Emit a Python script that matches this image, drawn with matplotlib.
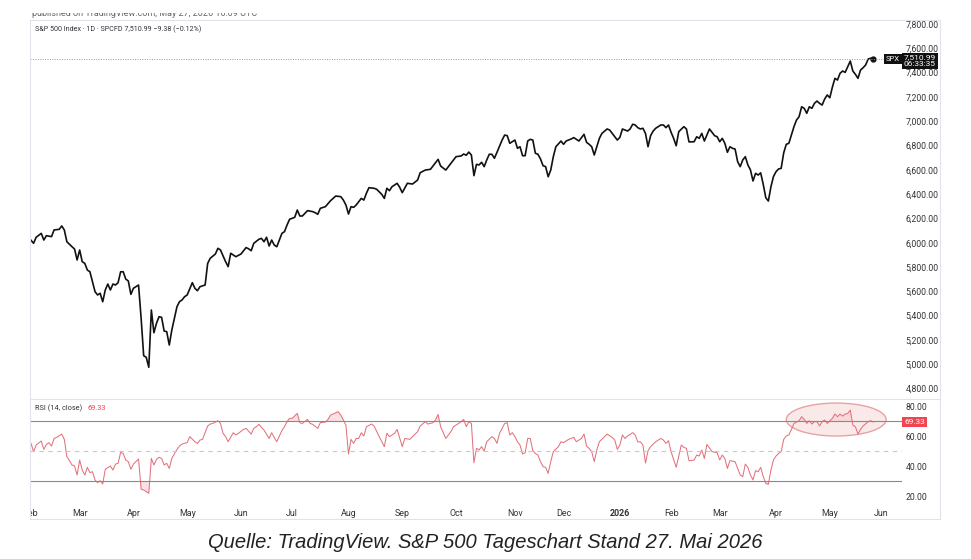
import numpy as np
import matplotlib.pyplot as plt
from matplotlib.patches import Ellipse, Rectangle
from matplotlib.lines import Line2D
from matplotlib.transforms import blended_transform_factory, offset_copy

# Handelstage ab 3. Feb 2025 (Index 0) bis 27. Mai 2026 (Index 329)
spx_bar = [-1, 1, 2, 4, 5, 6, 8, 9, 11, 12, 13, 14, 16, 17, 18, 19, 20, 21, 22, 23,
           24, 25, 26, 27, 28, 29, 30, 31, 32, 33, 34, 35, 36, 37, 38, 39, 40, 42, 43, 44,
           45, 46, 47, 48, 49, 50, 51, 52, 53, 54, 55, 56, 57, 58, 59, 60, 61, 63, 64, 65,
           66, 68, 69, 70, 72, 73, 74, 76, 77, 78, 80, 82, 84, 85, 86, 87, 89, 90, 91, 92,
           93, 94, 95, 96, 97, 98, 99, 100, 101, 103, 104, 105, 106, 108, 110, 111, 112, 113, 115, 117,
           119, 121, 122, 123, 124, 125, 126, 127, 128, 129, 130, 131, 132, 134, 135, 137, 138, 139, 140, 141,
           143, 144, 145, 147, 149, 151, 152, 154, 156, 157, 159, 160, 162, 164, 166, 168, 169, 170, 171, 172,
           173, 174, 175, 176, 177, 178, 179, 180, 181, 182, 184, 185, 186, 187, 188, 189, 190, 191, 192, 193,
           194, 195, 196, 197, 198, 199, 200, 201, 202, 203, 204, 205, 207, 208, 209, 211, 212, 214, 215, 216,
           217, 218, 219, 220, 221, 222, 223, 225, 226, 227, 229, 230, 231, 233, 234, 235, 236, 237, 238, 239,
           240, 241, 242, 243, 244, 246, 247, 248, 249, 250, 251, 252, 253, 255, 256, 257, 259, 260, 261, 262,
           263, 264, 265, 266, 267, 268, 269, 270, 271, 272, 273, 274, 275, 276, 277, 278, 279, 280, 281, 282,
           283, 284, 285, 286, 287, 288, 289, 290, 291, 292, 293, 294, 295, 296, 297, 298, 299, 300, 301, 302,
           303, 304, 305, 306, 307, 308, 309, 310, 311, 312, 313, 314, 315, 316, 317, 318, 319, 320, 321, 322,
           323, 324, 325, 326, 327, 328, 329]
spx_close = [6045, 5995, 6045, 6077, 6022, 6058, 6050, 6105, 6110, 6138, 6105, 6008, 5967, 5948, 5858, 5940, 5844, 5830, 5775, 5761,
             5679, 5597, 5570, 5584, 5514, 5611, 5660, 5611, 5660, 5652, 5671, 5761, 5761, 5701, 5685, 5575, 5625, 5652, 5380, 5070,
             5057, 4975, 5446, 5259, 5337, 5391, 5386, 5273, 5268, 5158, 5282, 5378, 5473, 5515, 5529, 5556, 5570, 5671, 5625, 5605,
             5638, 5652, 5830, 5872, 5907, 5954, 5940, 5844, 5803, 5913, 5885, 5907, 5960, 5950, 5934, 5995, 6028, 6036, 6008, 6045,
             5973, 6022, 5981, 5967, 6022, 6077, 6091, 6146, 6193, 6209, 6269, 6220, 6220, 6264, 6256, 6247, 6234, 6283, 6297, 6346,
             6384, 6379, 6351, 6310, 6236, 6297, 6291, 6310, 6338, 6365, 6351, 6407, 6453, 6448, 6440, 6398, 6365, 6448, 6428, 6461,
             6489, 6456, 6412, 6489, 6483, 6516, 6576, 6598, 6604, 6631, 6686, 6631, 6598, 6653, 6708, 6714, 6730, 6720, 6746, 6722,
             6552, 6645, 6640, 6662, 6626, 6681, 6728, 6728, 6695, 6744, 6845, 6886, 6881, 6818, 6831, 6845, 6777, 6790, 6716, 6716,
             6837, 6851, 6845, 6736, 6728, 6689, 6634, 6626, 6543, 6598, 6708, 6790, 6837, 6810, 6837, 6854, 6865, 6837, 6865, 6892,
             6826, 6810, 6790, 6722, 6790, 6859, 6900, 6936, 6928, 6900, 6845, 6867, 6936, 6919, 6936, 6975, 6969, 6947, 6936, 6942,
             6900, 6790, 6881, 6919, 6942, 6969, 6969, 6947, 6969, 6909, 6859, 6798, 6914, 6955, 6936, 6830, 6831, 6872, 6859, 6900,
             6837, 6886, 6936, 6909, 6881, 6872, 6831, 6859, 6818, 6744, 6790, 6777, 6771, 6667, 6626, 6681, 6708, 6640, 6600, 6508,
             6571, 6557, 6575, 6480, 6370, 6343, 6460, 6545, 6585, 6607, 6612, 6740, 6810, 6818, 6886, 6955, 7010, 7037, 7119, 7106,
             7065, 7119, 7106, 7147, 7166, 7147, 7133, 7183, 7216, 7193, 7280, 7353, 7339, 7394, 7413, 7402, 7449, 7495, 7413, 7386,
             7353, 7421, 7440, 7463, 7512, 7518, 7510.99]

rsi_bar = [0, 1, 2, 4, 5, 6, 7, 8, 9, 10, 12, 13, 14, 15, 16, 17, 18, 19, 20, 21,
           22, 23, 24, 25, 26, 27, 28, 29, 31, 32, 33, 34, 35, 36, 37, 38, 39, 40, 42, 43,
           44, 45, 46, 47, 48, 49, 50, 51, 52, 53, 54, 55, 57, 58, 59, 61, 62, 64, 65, 66,
           67, 69, 70, 71, 73, 74, 75, 76, 77, 79, 80, 81, 83, 84, 86, 87, 88, 89, 90, 91,
           93, 94, 95, 96, 97, 98, 99, 100, 101, 102, 104, 105, 106, 108, 109, 110, 112, 113, 115, 116,
           117, 118, 120, 121, 122, 123, 124, 125, 126, 127, 128, 129, 130, 131, 133, 134, 136, 138, 139, 140,
           142, 143, 145, 146, 148, 149, 151, 152, 154, 155, 157, 158, 159, 160, 162, 164, 165, 167, 168, 169,
           170, 171, 172, 173, 174, 175, 176, 177, 178, 180, 181, 182, 183, 185, 186, 187, 188, 189, 190, 191,
           192, 193, 194, 195, 196, 197, 198, 199, 200, 201, 202, 203, 204, 206, 207, 208, 210, 212, 213, 215,
           216, 217, 218, 219, 220, 221, 222, 224, 225, 227, 228, 229, 230, 231, 232, 233, 235, 236, 237, 238,
           239, 240, 241, 242, 244, 246, 247, 248, 249, 250, 252, 254, 255, 256, 257, 258, 259, 260, 261, 262,
           263, 264, 266, 268, 269, 270, 271, 272, 273, 275, 277, 278, 279, 280, 281, 282, 283, 284, 285, 286,
           287, 288, 289, 290, 291, 292, 293, 294, 295, 296, 297, 298, 300, 301, 302, 303, 304, 305, 306, 307,
           308, 309, 310, 311, 313, 314, 315, 316, 317, 318, 319, 320, 321, 322, 323, 324, 325, 327, 328, 329]
rsi_val = [55.1, 49.6, 54.0, 56.7, 51.1, 54.4, 55.6, 53.3, 58.4, 59.1, 61.3, 57.8, 46.2, 43.6, 40.7, 40.0, 34.0, 44.0, 37.3, 34.0,
           39.1, 35.6, 36.2, 30.7, 28.9, 30.2, 28.0, 37.8, 40.0, 37.3, 41.3, 41.8, 49.1, 48.4, 44.0, 42.9, 37.8, 41.3, 44.7, 24.5,
           24.0, 22.9, 21.8, 45.1, 40.7, 44.4, 45.8, 45.1, 40.7, 41.8, 38.4, 45.1, 51.1, 53.3, 54.7, 55.6, 59.6, 56.2, 55.1, 57.3,
           57.8, 66.7, 68.0, 68.4, 70.2, 68.4, 61.8, 59.6, 56.2, 62.2, 60.7, 61.8, 64.4, 65.1, 61.3, 65.1, 66.2, 67.8, 65.8, 64.0,
           58.4, 62.2, 59.0, 56.2, 60.0, 63.6, 66.2, 69.6, 71.8, 71.8, 75.1, 68.9, 68.4, 71.1, 68.4, 67.8, 65.1, 68.9, 69.3, 71.1,
           74.0, 74.7, 76.2, 74.0, 70.7, 67.3, 48.0, 57.8, 55.1, 58.4, 58.4, 62.2, 60.0, 66.2, 68.0, 66.7, 59.6, 52.9, 61.8, 59.6,
           61.8, 64.4, 52.9, 58.4, 57.8, 59.6, 62.9, 66.7, 69.6, 68.0, 68.9, 70.7, 74.4, 66.2, 58.4, 62.9, 66.2, 68.4, 69.6, 71.1,
           66.2, 69.6, 68.4, 42.2, 51.8, 50.7, 52.9, 50.0, 56.2, 59.6, 58.4, 55.1, 61.8, 68.4, 68.9, 60.7, 62.2, 59.6, 56.2, 54.0,
           48.0, 48.9, 58.4, 58.4, 50.2, 48.4, 47.3, 42.9, 39.6, 39.1, 35.1, 42.9, 49.6, 52.9, 56.2, 55.6, 57.8, 59.1, 56.2, 58.4,
           61.3, 53.3, 51.8, 49.6, 42.9, 50.7, 56.2, 59.6, 61.3, 59.1, 57.3, 51.1, 54.0, 60.7, 58.4, 60.0, 62.2, 60.7, 56.0, 56.2,
           54.0, 42.0, 50.2, 52.9, 56.2, 58.4, 57.3, 55.1, 56.9, 49.6, 39.1, 54.0, 52.4, 51.8, 43.6, 43.6, 44.0, 47.3, 46.7, 50.7,
           45.1, 54.4, 49.6, 48.9, 44.0, 47.3, 45.1, 38.4, 43.6, 42.9, 34.0, 32.9, 41.3, 39.1, 34.0, 30.7, 36.9, 36.2, 39.1, 33.0,
           28.4, 27.8, 37.3, 44.0, 46.7, 48.4, 49.6, 57.8, 60.0, 60.7, 64.4, 68.4, 70.2, 72.9, 71.1, 68.4, 70.2, 68.0, 69.6, 69.6,
           66.7, 69.6, 70.7, 68.4, 71.8, 74.7, 72.9, 74.7, 73.3, 74.7, 75.1, 77.3, 67.3, 66.2, 61.3, 64.4, 66.7, 69.6, 70.2, 69.33]

# erster Handelstag je Monat
month_bar = [0, 19, 40, 61, 82, 102, 124, 145, 166, 189, 208, 230, 250, 269, 291, 312, 332]
month_lbl = ['Feb', 'Mar', 'Apr', 'May', 'Jun', 'Jul', 'Aug', 'Sep', 'Oct', 'Nov', 'Dec',
             '2026', 'Feb', 'Mar', 'Apr', 'May', 'Jun']
price_ticks = list(range(4800, 7801, 200))
rsi_ticks = [20, 40, 60, 80]

last_close = 7510.99
change = -9.38
change_pct = -0.12
last_rsi = 69.33
countdown = '06:33:35'

# Markierung im RSI (Ellipse um die Überkauft-Phase)
mark_bars = (295, 334)
mark_rsi = (60, 82)

W, H = 971, 559
def fx(px):
    return px / W
def fy(py):
    return 1 - py / H

grey = '#e0e3eb'
txt = '#333333'
red_line = '#e3727c'

plt.rcParams['font.family'] = ['Roboto', 'DejaVu Sans']

fig = plt.figure(figsize=(9.71, 5.59), dpi=100)
ax = fig.add_axes([fx(30), fy(398), fx(902) - fx(30), fy(20) - fy(398)])
ax2 = fig.add_axes([fx(30), fy(502), fx(902) - fx(30), fy(399) - fy(502)], sharex=ax)

# Kurs
ax.plot(spx_bar, spx_close, color='#111111', lw=1.2, solid_joinstyle='round')
ax.plot(spx_bar[-1], spx_close[-1], 'o', ms=3.5, color='#111111')
ax.axhline(last_close, color='#999999', lw=0.7, ls=(0, (1, 1.5)))
ax.set_xlim(-0.4, 340.2)
ax.set_ylim(4722, 7833)
ax.set_yticks(price_ticks, [f'{v:,.2f}' for v in price_ticks])

# RSI
rb = np.array(rsi_bar)
rv = np.array(rsi_val)
ax2.fill_between(rb, rv, 70, where=rv > 70, interpolate=True, color='#fbe1e3', lw=0)
ax2.fill_between(rb, rv, 30, where=rv < 30, interpolate=True, color='#fbe1e3', lw=0)
ax2.plot(rb, rv, color=red_line, lw=0.75)
ax2.axhline(70, color='#8a8a8a', lw=0.8)
ax2.axhline(30, color='#8a8a8a', lw=0.8)
ax2.axhline(50, color='#c8c8c8', lw=0.8, ls=(0, (4, 4)))
ax2.set_ylim(16, 84.7)
ax2.set_yticks(rsi_ticks, [f'{v:.2f}' for v in rsi_ticks])

ell = Ellipse(((mark_bars[0] + mark_bars[1]) / 2, (mark_rsi[0] + mark_rsi[1]) / 2),
              mark_bars[1] - mark_bars[0], mark_rsi[1] - mark_rsi[0],
              facecolor='#f6cfcf', alpha=0.45, edgecolor='none')
ax2.add_patch(ell)
ax2.add_patch(Ellipse(ell.center, ell.width, ell.height, facecolor='none',
                      edgecolor='#e6a3a6', lw=1.0))

ax2.set_xticks(month_bar, month_lbl)
for lab in ax2.get_xticklabels():
    if lab.get_text() == '2026':
        lab.set_fontweight('bold')

for a in (ax, ax2):
    for s in a.spines.values():
        s.set_visible(False)
    a.yaxis.tick_right()
    a.tick_params(axis='y', length=0, pad=2.5, labelsize=6.2, labelcolor=txt)
    a.tick_params(axis='x', length=0)
ax.tick_params(axis='x', labelbottom=False)
ax2.tick_params(axis='x', pad=5, labelsize=6.4, labelcolor=txt)

# Kurs- und RSI-Etiketten an der Skala
tr = blended_transform_factory(ax.transAxes, ax.transData)
ax.text((893 - 30) / 872, last_close, 'SPX', transform=tr, ha='center', va='center',
        fontsize=5.5, color='white', clip_on=False,
        bbox=dict(boxstyle='square,pad=0.25', fc='#111111', ec='none'))
ax.text((920 - 30) / 872, last_close, f'{last_close:,.2f}\n{countdown}',
        transform=offset_copy(tr, fig=fig, y=4.5, units='dots'),
        ha='center', va='top', fontsize=6, color='white', clip_on=False, linespacing=1.0,
        bbox=dict(boxstyle='square,pad=0.25', fc='#111111', ec='none'))
tr2 = blended_transform_factory(ax2.transAxes, ax2.transData)
ax2.text((914.5 - 30) / 872, last_rsi, f'{last_rsi:.2f}', transform=tr2, ha='center', va='center',
         fontsize=6, color='white', clip_on=False,
         bbox=dict(boxstyle='square,pad=0.25', fc='#ef4452', ec='none'))

# Kopfzeilen (oberste Zeile ist im Original abgeschnitten)
fig.text(fx(32), fy(13.5), 'published on TradingView.com, May 27, 2026 16:09 UTC',
         fontsize=6.5, color='#666666', va='center')
fig.add_artist(Rectangle((0, fy(13.2)), 1, 1 - fy(13.2), transform=fig.transFigure,
                         fc='white', ec='none', zorder=20))
fig.text(fx(35), fy(29), f'S&P 500 Index · 1D · SPCFD {last_close:,.2f} {change:.2f} ({change_pct:.2f}%)'.replace('-', '−'),
         fontsize=5.1, color=txt, va='center')
t_rsi = fig.text(fx(35), fy(408), 'RSI (14, close)', fontsize=5.3, color=txt, va='center')
fig.canvas.draw()
bb = t_rsi.get_window_extent().transformed(fig.transFigure.inverted())
fig.text(bb.x1 + fx(5), fy(408), f'{last_rsi:.2f}', fontsize=5.3, color='#ef4452', va='center')

# Rahmenlinien
for (x0, y0, x1, y1) in [(30, 20, 940, 20), (30, 399, 940, 399), (30, 519, 940, 519),
                         (30, 20, 30, 519), (940, 20, 940, 519)]:
    fig.add_artist(Line2D([fx(x0), fx(x1)], [fy(y0), fy(y1)], transform=fig.transFigure,
                          color=grey, lw=0.8))
# linker Rand (schneidet das erste Monatslabel ab)
fig.add_artist(Rectangle((0, fy(521)), fx(29.6), fy(500) - fy(521), transform=fig.transFigure,
                         fc='white', ec='none', zorder=20))

fig.text(0.5, fy(543), 'Quelle: TradingView. S&P 500 Tageschart Stand 27. Mai 2026',
         ha='center', va='center', fontsize=14.5, style='italic',
         family=['Liberation Sans', 'DejaVu Sans'], color='#222222')

fig.savefig('out.png', dpi=100, facecolor='white')
